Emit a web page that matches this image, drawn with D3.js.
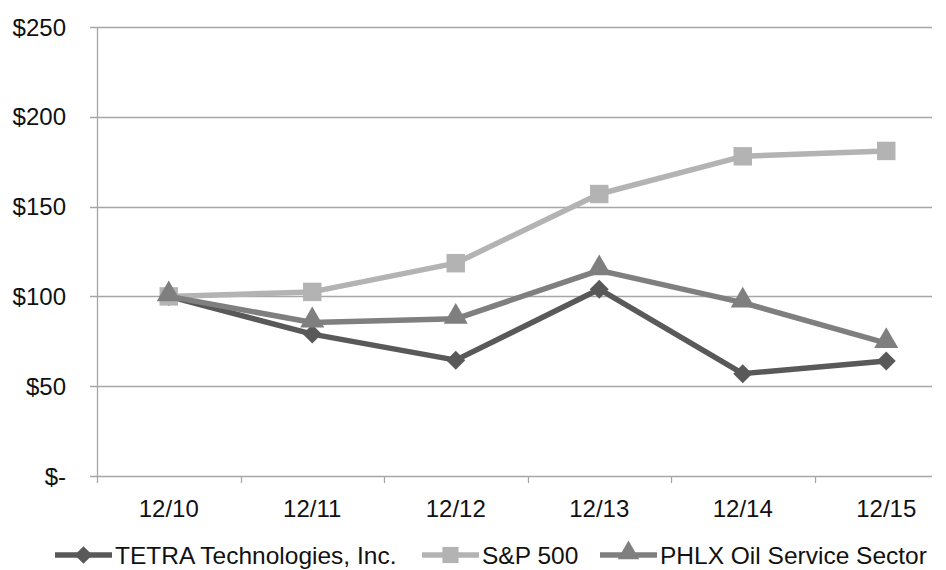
<!DOCTYPE html>
<html>
<head>
<meta charset="utf-8">
<script src="https://cdn.jsdelivr.net/npm/d3@7"></script>
<style>
  body { margin: 0; background: #fff; }
  text { font-family: "Liberation Sans", Arial, sans-serif; fill: #111; }
</style>
</head>
<body>
<div id="chart"></div>
<script>
// Data
const years = ["12/10", "12/11", "12/12", "12/13", "12/14", "12/15"];
const tetra = [100, 79, 64.5, 104, 57, 64];
const sp500 = [100, 102.5, 118.5, 157, 178, 181];
const phlx = [100, 85.5, 87.5, 114.5, 96.5, 74];
const yTicks = [0, 50, 100, 150, 200, 250];

const series = [
  { name: "TETRA Technologies, Inc.", values: tetra, color: "#595959", shape: "diamond" },
  { name: "S&P 500", values: sp500, color: "#b3b3b3", shape: "square" },
  { name: "PHLX Oil Service Sector", values: phlx, color: "#7f7f7f", shape: "triangle" }
];

const width = 946, height = 570;
const margin = { top: 27, left: 97 };
const bandsW = 861,   // six category bands; the last one runs past the picture edge
      gridW = 835,
      plotH = 449;

const svg = d3.select("#chart")
  .append("svg")
  .attr("width", width)
  .attr("height", height);

const g = svg.append("g")
  .attr("transform", `translate(${margin.left},${margin.top})`);

const x = d3.scaleBand().domain(years).range([0, bandsW]);
const y = d3.scaleLinear().domain([0, 250]).range([plotH, 0]);

// gridlines
g.append("g")
  .selectAll("line")
  .data(yTicks)
  .join("line")
  .attr("x1", -7)
  .attr("x2", gridW)
  .attr("y1", d => Math.round(y(d)) + 0.5)
  .attr("y2", d => Math.round(y(d)) + 0.5)
  .attr("stroke", "#a6a6a6")
  .attr("stroke-width", 1.3);

// y axis line
g.append("line")
  .attr("x1", 0.5).attr("x2", 0.5)
  .attr("y1", 0).attr("y2", plotH + 7)
  .attr("stroke", "#a6a6a6")
  .attr("stroke-width", 1.3);

// y labels
g.append("g")
  .selectAll("text")
  .data(yTicks)
  .join("text")
  .attr("x", -31)
  .attr("y", d => y(d))
  .attr("dy", "0.36em")
  .attr("text-anchor", "end")
  .style("font-size", "24px")
  .text(d => d === 0 ? "$-" : "$" + d);

// x ticks at band edges
const edges = years.slice(1).map(d => x(d)).filter(d => d < gridW);
g.append("g")
  .selectAll("line")
  .data(edges)
  .join("line")
  .attr("x1", d => Math.round(d) + 0.5)
  .attr("x2", d => Math.round(d) + 0.5)
  .attr("y1", plotH)
  .attr("y2", plotH + 7)
  .attr("stroke", "#a6a6a6")
  .attr("stroke-width", 1.3);

// x labels
g.append("g")
  .selectAll("text")
  .data(years)
  .join("text")
  .attr("x", d => x(d) + x.bandwidth() / 2)
  .attr("y", plotH + 32)
  .attr("dy", "0.36em")
  .attr("text-anchor", "middle")
  .style("font-size", "24px")
  .text(d => d);

const symbolOf = shape => {
  if (shape === "diamond") return d3.symbol().type(d3.symbolDiamond2).size(230);
  if (shape === "square") return d3.symbol().type(d3.symbolSquare).size(340);
  return d3.symbol().type(d3.symbolTriangle).size(250);
};

const line = d3.line()
  .x((d, i) => x(years[i]) + x.bandwidth() / 2)
  .y(d => y(d));

// series drawn in order, later ones on top
series.forEach(s => {
  g.append("path")
    .datum(s.values)
    .attr("fill", "none")
    .attr("stroke", s.color)
    .attr("stroke-width", 5.5)
    .attr("stroke-linejoin", "round")
    .attr("d", line);
  g.append("g")
    .selectAll("path")
    .data(s.values)
    .join("path")
    .attr("transform", (d, i) => `translate(${x(years[i]) + x.bandwidth() / 2},${y(d) - (s.shape === "triangle" ? 2 : 0)})`)
    .attr("d", symbolOf(s.shape)())
    .attr("fill", s.color);
});

// legend
const legendX = [55, 422, 600];
const legend = svg.append("g").attr("transform", `translate(0,555)`);
series.forEach((s, i) => {
  const lg = legend.append("g").attr("transform", `translate(${legendX[i]},0)`);
  lg.append("line")
    .attr("x1", 0).attr("x2", 57)
    .attr("y1", 0).attr("y2", 0)
    .attr("stroke", s.color)
    .attr("stroke-width", 5.5);
  lg.append("path")
    .attr("transform", `translate(28.5,${s.shape === "triangle" ? -2 : 0})`)
    .attr("d", symbolOf(s.shape).size(s.shape === "square" ? 260 : 200)())
    .attr("fill", s.color);
  lg.append("text")
    .attr("x", 60)
    .attr("y", 0)
    .attr("dy", "0.36em")
    .style("font-size", "24.5px")
    .text(s.name);
});
</script>
</body>
</html>
